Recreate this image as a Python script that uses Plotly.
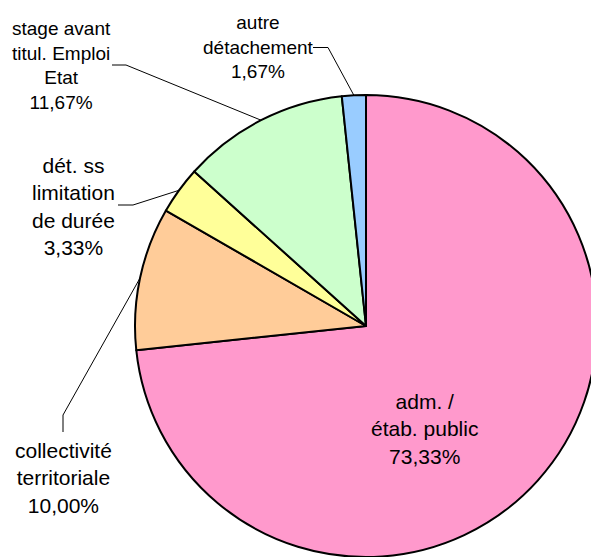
import math
import plotly.graph_objects as go

# ---- data ----
categories = ["adm. / étab. public", "collectivité territoriale",
              "dét. ss limitation de durée", "stage avant titul. Emploi Etat",
              "autre détachement"]
label_lines = ["adm. /<br>étab. public", "collectivité<br>territoriale",
               "dét. ss<br>limitation<br>de durée", "stage avant<br>titul. Emploi<br>Etat",
               "autre<br>détachement"]
values = [73.33, 10.00, 3.33, 11.67, 1.67]
colors = ["#FF99CC", "#FFCC99", "#FFFF99", "#CCFFCC", "#99CCFF"]

# figure slightly larger than the window so the pie is clipped like the reference
W, H = 610, 570
def px(x): return x / W
def py(y): return 1 - y / H

# pie geometry (screen pixels)
cx, cy, r = 366, 326, 231

fig = go.Figure(go.Pie(
    labels=categories, values=values, sort=False, direction="clockwise", rotation=0,
    marker=dict(colors=colors, line=dict(color="black", width=2)),
    textinfo="none", hoverinfo="label+percent", showlegend=False,
    domain=dict(x=[px(cx - r), px(cx + r)], y=[py(cy + r), py(cy - r)]),
))

# label layout: (center x, center y, font size, elbow points)
label_pos = [
    (424, 429, 21, None),
    (63, 478, 21, [(63, 432), (63, 415)]),
    (73, 206, 21, [(118, 205), (133, 205)]),
    (61, 65, 19, [(112, 65), (126, 65)]),
    (258, 47, 19, [(313, 47.5), (328, 47.5)]),
]

total = sum(values)
cum = 0
annotations, shapes = [], []
for lab, v, (lx, ly, fs, elbow) in zip(label_lines, values, label_pos):
    mid = (cum + v / 2) / total
    cum += v
    pct = f"{v:.2f}".replace(".", ",") + "%"
    annotations.append(dict(
        x=px(lx), y=py(ly), xref="paper", yref="paper", text=f"{lab}<br>{pct}",
        showarrow=False, xanchor="center", yanchor="middle", align="center",
        font=dict(family="Liberation Sans, Arial", size=fs, color="black")))
    if elbow:
        ang = 2 * math.pi * mid
        ax = cx + r * math.sin(ang)
        ay = cy - r * math.cos(ang)
        pts = elbow + [(ax, ay)]
        path = "M " + " L ".join(f"{px(x)},{py(y)}" for x, y in pts)
        shapes.append(dict(type="path", path=path, xref="paper", yref="paper",
                           line=dict(color="black", width=1)))

fig.update_layout(
    width=W, height=H, margin=dict(l=0, r=0, t=0, b=0),
    paper_bgcolor="white", plot_bgcolor="white",
    annotations=annotations, shapes=shapes,
)
fig.write_html(
    "out.html",
    config={"displayModeBar": False},
    post_script="document.body.style.margin='0';document.body.style.overflow='hidden';",
)
